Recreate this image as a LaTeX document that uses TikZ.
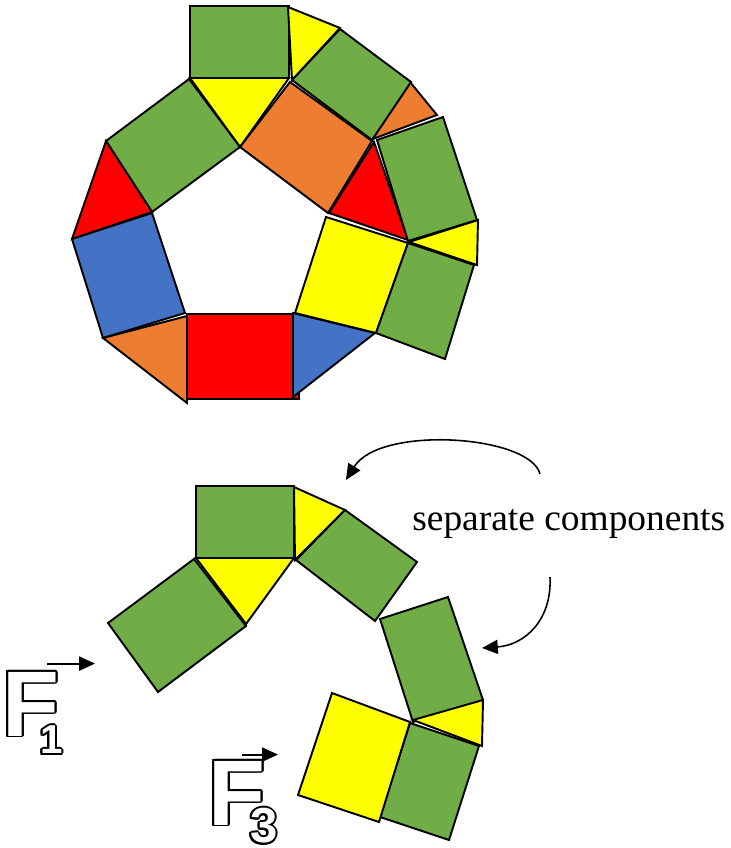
\documentclass[tikz,border=0pt]{standalone}
\usepackage{fontspec}
\setmainfont{Liberation Serif}
\setsansfont{Liberation Sans}
\usepackage{contour}
\contourlength{1.1pt}
\usetikzlibrary{arrows.meta}

\definecolor{tgreen}{HTML}{70AD47}
\definecolor{tyellow}{HTML}{FFFF00}
\definecolor{torange}{HTML}{ED7D31}
\definecolor{tred}{HTML}{FF0000}
\definecolor{tblue}{HTML}{4472C4}

% white letter with a black rim
\newcommand{\hollow}[1]{{\color{white}\contour{black}{#1}}}

\begin{document}
\begin{tikzpicture}[x=0.02cm, y=-0.02cm, >={Triangle[length=9pt,width=8pt]},
    tile/.style={draw=black, line width=1.1pt},
    curve/.style={line width=0.9pt},
    vec/.style={line width=1.1pt},
    force/.style={inner sep=0pt, anchor=base west, font=\sffamily\bfseries\fontsize{53}{53}\selectfont}]
    \useasboundingbox (0,0) rectangle (730,848);

    % Ring round the pentagon hole
    \filldraw[tile, fill=tgreen] (190,6) -- (289,6) -- (289,78) -- (190,78) -- cycle;
    \filldraw[tile, fill=tyellow] (190,78) -- (289,78) -- (240,147) -- cycle;
    \filldraw[tile, fill=tgreen] (189,79) -- (240,147) -- (152,212) -- (106,141) -- cycle;
    \filldraw[tile, fill=tred] (106,141) -- (152,212) -- (72,239) -- cycle;
    \filldraw[tile, fill=tblue] (72,239) -- (152,213) -- (185,313) -- (103,338) -- cycle;
    \filldraw[tile, fill=torange] (103,338) -- (187,316) -- (187,403) -- cycle;
    \filldraw[tile, fill=tred] (187,314) -- (299,314) -- (299,399) -- (187,399) -- cycle;
    \filldraw[tile, fill=tblue] (293,313) -- (375,333) -- (293,397) -- cycle;
    \filldraw[tile, fill=tyellow] (295,313) -- (326,217) -- (408,243) -- (376,333) -- cycle;
    \filldraw[tile, fill=tgreen] (408,243) -- (474,265) -- (445,359) -- (376,333) -- cycle;
    \filldraw[tile, fill=tyellow] (409,242) -- (478,220) -- (477,265) -- cycle;
    \filldraw[tile, fill=tred] (374,142) -- (329,213) -- (408,240) -- cycle;
    \filldraw[tile, fill=tgreen] (377,140) -- (443,117) -- (477,220) -- (408,241) -- cycle;
    \filldraw[tile, fill=torange] (370,140) -- (410,82) -- (437,115) -- cycle;
    \filldraw[tile, fill=tgreen] (292,80) -- (340,29) -- (411,82) -- (372,140) -- cycle;
    \filldraw[tile, fill=tyellow] (288,7) -- (340,28) -- (292,80) -- cycle;
    \filldraw[tile, fill=torange] (240,147) -- (290,82) -- (372,141) -- (328,213) -- cycle;

    % Same tiles, cut into two pieces
    \filldraw[tile, fill=tgreen] (196,486) -- (294,486) -- (294,558) -- (196,558) -- cycle;
    \filldraw[tile, fill=tyellow] (196,558) -- (294,558) -- (246,624) -- cycle;
    \filldraw[tile, fill=tgreen] (194,559) -- (246,626) -- (158,692) -- (108,623) -- cycle;
    \filldraw[tile, fill=tyellow] (294,487) -- (345,510) -- (295,560) -- cycle;
    \filldraw[tile, fill=tgreen] (296,560) -- (345,510) -- (417,562) -- (375,621) -- cycle;
    \filldraw[tile, fill=tgreen] (380,619) -- (448,597) -- (483,700) -- (413,722) -- cycle;
    \filldraw[tile, fill=tyellow] (413,720) -- (483,700) -- (482,746) -- cycle;
    \filldraw[tile, fill=tgreen] (410,723) -- (479,746) -- (449,840) -- (380,817) -- cycle;
    \filldraw[tile, fill=tyellow] (332,693) -- (410,722) -- (379,822) -- (298,795) -- cycle;

    % Label with its two arrows
    \node[inner sep=0pt, anchor=base west, font=\fontsize{21.3}{25}\selectfont] (sep) at (412,530) {separate components};
    \coordinate (upstart) at (540,474);
    \coordinate (ringgap) at (346,480);
    \coordinate (downstart) at (550,577);
    \coordinate (chaingap) at (482,648);
    \draw[->, curve] (upstart) .. controls (530,435) and (380,425) .. (ringgap);
    \draw[->, curve] (downstart) .. controls (552,620) and (525,645) .. (chaingap);

    % Forces
    \node[force] (f1) at (2,736) {\hollow{F}\kern-10.9pt\raisebox{-10.2pt}{\fontsize{23}{23}\selectfont\hollow{1}}};
    \node[force] (f3) at (208,825) {\hollow{F}\kern-8.6pt\raisebox{-10.2pt}{\fontsize{28}{28}\selectfont\hollow{3}}};
    \draw[->, vec] (f1.north west) ++(45,-8) -- ++(48,0);
    \draw[->, vec] (f3.north west) ++(34,-6) -- ++(36,0);
\end{tikzpicture}
\end{document}
